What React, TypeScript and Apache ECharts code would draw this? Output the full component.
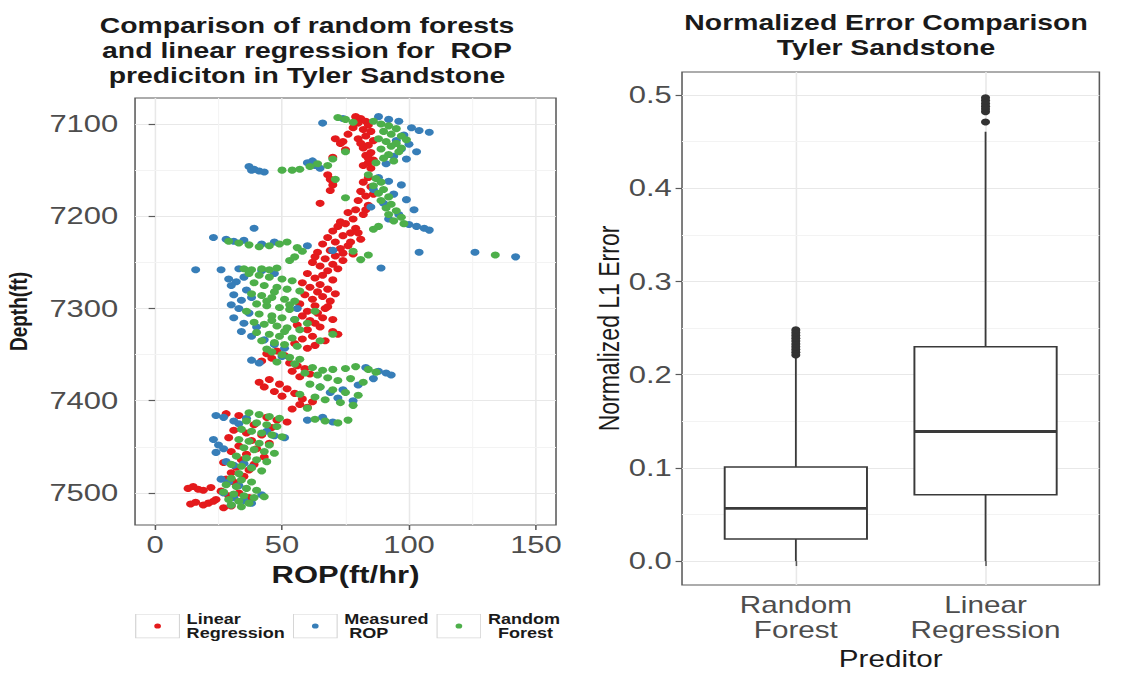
import React, { useEffect, useRef } from "react";
import * as echarts from "echarts";

// ---------- data ----------
// Left panel: [ROP (ft/hr), Depth (ft)]
const LR_POINTS: [number, number][] = [
  [79,7092],[81,7094],[83,7097],[80,7099],[84,7101],[78,7104],[82,7106],[85,7108],[76,7111],[83,7113],
  [80,7116],[86,7118],[73,7121],[84,7123],[82,7126],[75,7128],[85,7131],[83,7134],[70,7136],[86,7139],
  [84,7142],[82,7145],[85,7148],[71,7116],[74,7119],[81,7121],[84,7137],
  [68,7155],[69,7160],[70,7166],[69,7172],[84,7158],[82,7163],[85,7168],[81,7173],[83,7178],[80,7183],
  [84,7188],[65,7186],[79,7193],[76,7196],[82,7198],[78,7203],[73,7206],[86,7176],[83,7193],
  [75,7208],[72,7211],[79,7213],[70,7216],[77,7218],[74,7221],[68,7223],[81,7225],[71,7228],[66,7230],
  [76,7232],[73,7235],[69,7237],[64,7239],[78,7241],[71,7243],[67,7246],[74,7248],[62,7250],[70,7252],
  [65,7254],[72,7257],[68,7259],[80,7218],[77,7228],[74,7240],[63,7244],
  [60,7262],[66,7264],[63,7267],[70,7269],[58,7272],[65,7274],[61,7277],[68,7279],[64,7282],[59,7285],
  [66,7287],[62,7290],[69,7292],[57,7295],[63,7297],[67,7300],[60,7303],[64,7305],[58,7308],[66,7310],
  [61,7313],[63,7316],[56,7318],[65,7320],[60,7323],[70,7325],[72,7328],[62,7330],[58,7333],[67,7335],
  [55,7338],[63,7340],[60,7343],[71,7284],[68,7298],[70,7312],
  [48,7346],[44,7349],[51,7351],[46,7354],[42,7357],[53,7359],[56,7362],[59,7365],[54,7368],[61,7371],
  [57,7374],[45,7377],[41,7380],[49,7382],[43,7385],[52,7387],[47,7390],[55,7392],[50,7395],[58,7398],
  [62,7401],[57,7404],[60,7407],[54,7409],
  [28,7414],[33,7416],[44,7418],[48,7421],[52,7423],[39,7426],[46,7429],[31,7432],[36,7435],[42,7437],
  [29,7440],[38,7443],[45,7446],[33,7449],[40,7452],[30,7455],[36,7458],[43,7461],[34,7464],[27,7467],
  [39,7469],[32,7472],[37,7475],[30,7478],
  [35,7482],[28,7485],[31,7488],[15,7493],[13,7495],[17,7496],[19,7497],[22,7494],[26,7498],[33,7500],
  [29,7503],[37,7505],[24,7507],[16,7510],[14,7512],[19,7513],[21,7511],[23,7509],[30,7514],[27,7516]
];

const MEASURED_POINTS: [number, number][] = [
  [66,7099],[74,7094],[88,7092],[92,7095],[96,7097],[101,7104],[104,7107],[108,7109],[98,7112],[95,7118],
  [100,7122],[97,7127],[103,7130],[94,7135],[99,7138],[91,7143],
  [37,7146],[39,7149],[41,7151],[43,7152],[38,7150],[60,7142],[63,7145],[65,7148],[62,7140],
  [88,7158],[92,7162],[97,7166],[86,7171],[94,7176],[99,7182],[90,7186],[102,7193],[96,7198],[100,7209],
  [103,7211],[106,7213],[108,7215],[92,7203],[85,7190],
  [23,7223],[28,7225],[31,7227],[35,7226],[39,7213],[42,7230],[47,7228],[126,7239],[142,7244],[104,7239],
  [70,7237],[60,7232],
  [16,7258],[26,7258],[33,7257],[42,7259],[89,7256],[47,7262],
  [29,7268],[32,7271],[35,7266],[30,7275],[36,7280],[31,7285],[34,7291],[38,7288],[30,7296],[33,7300],
  [37,7305],[31,7310],[35,7316],[40,7320],[34,7325],[38,7330],[43,7334],[47,7339],[51,7343],[56,7300],
  [55,7312],
  [38,7356],[41,7359],[50,7352],[83,7364],[88,7368],[91,7370],[93,7372],[86,7376],[80,7383],[74,7388],
  [69,7391],[65,7385],[72,7397],[78,7400],
  [24,7416],[27,7418],[36,7419],[31,7422],[33,7425],[60,7421],[66,7418],[70,7423],[23,7442],[25,7448],
  [27,7452],[24,7456],[47,7438],[51,7440],[44,7433],[28,7466],[31,7470],[35,7468],[38,7472],
  [26,7485],[29,7488],[33,7492],[27,7500],[31,7505],[35,7508],[38,7511],[30,7513],[42,7502]
];

const RF_POINTS: [number, number][] = [
  [72,7093],[75,7095],[78,7098],[86,7097],[89,7100],[92,7102],[95,7105],[90,7108],[93,7111],[97,7113],
  [88,7116],[91,7119],[95,7121],[93,7124],[89,7127],[96,7130],[92,7133],[90,7137],[94,7140],[87,7142],
  [75,7130],[70,7138],[68,7145],[99,7117],[97,7126],
  [50,7150],[54,7150],[57,7149],[61,7146],[64,7143],
  [84,7155],[87,7159],[89,7163],[86,7167],[90,7171],[88,7175],[92,7179],[89,7183],[93,7187],[91,7191],
  [95,7194],[92,7198],[97,7201],[94,7205],[98,7208],[88,7211],[86,7214],[71,7160],[75,7180],
  [29,7227],[33,7229],[37,7231],[41,7233],[45,7232],[49,7230],[52,7228],[56,7234],[58,7238],[134,7242],
  [84,7242],[78,7238],[81,7247],[35,7257],[38,7258],[42,7257],[45,7258],[48,7256],[53,7248],[55,7244],
  [37,7262],[41,7264],[45,7266],[50,7268],[54,7270],[39,7272],[43,7275],[48,7277],[52,7279],[57,7281],
  [38,7284],[42,7286],[46,7288],[51,7290],[55,7292],[40,7295],[44,7297],[49,7299],[53,7301],[36,7303],
  [41,7306],[46,7308],[50,7310],[55,7312],[39,7315],[43,7317],[48,7319],[52,7321],[57,7323],[40,7326],
  [45,7328],[49,7330],[54,7332],[42,7335],[47,7337],[51,7339],[56,7341],[44,7344],[60,7316],[63,7303],
  [65,7335],[70,7328],[47,7282],[44,7292],[53,7296],[46,7313],[51,7325],
  [46,7347],[50,7350],[53,7353],[57,7355],[48,7358],[55,7360],[62,7364],[66,7367],[70,7366],[75,7365],
  [79,7363],[84,7366],[87,7369],[59,7370],[64,7372],[68,7375],[72,7378],[77,7376],[82,7380],[61,7382],
  [65,7385],[70,7388],[75,7391],[80,7394],[63,7396],[67,7399],[73,7402],[78,7405],[57,7393],[60,7408],
  [37,7413],[41,7415],[45,7417],[49,7419],[36,7422],[40,7424],[44,7426],[48,7428],[63,7420],[67,7422],
  [72,7424],[76,7421],[34,7431],[38,7433],[42,7435],[46,7437],[50,7439],[33,7442],[37,7444],[41,7446],
  [45,7448],[35,7451],[39,7453],[43,7455],[47,7457],[32,7460],[36,7462],[40,7464],[44,7466],[30,7469],
  [34,7471],[38,7473],[42,7476],[33,7479],
  [30,7484],[34,7486],[38,7488],[28,7491],[32,7493],[36,7495],[40,7497],[27,7499],[31,7501],[35,7503],
  [39,7505],[43,7504],[29,7507],[33,7509],[37,7511],[30,7513],[34,7515]
];

const SERIES_NAMES = ["Linear Regression", "Measured ROP", "Random Forest"];
const LEGEND_LABELS: Record<string, string> = {
  "Linear Regression": "Linear\nRegression",
  "Measured ROP": "Measured\n\u00A0ROP",
  "Random Forest": "Random\n\u00A0\u00A0Forest",
};

const ROP_TICKS = [0, 50, 100, 150];
const ROP_MINOR = [25, 75, 125];
const DEPTH_TICKS = [7100, 7200, 7300, 7400, 7500];
const DEPTH_MINOR = [7150, 7250, 7350, 7450];

// Right panel: box statistics [lowerWhisker, Q1, median, Q3, upperWhisker]
const PREDICTORS = ["Random\nForest", "Linear\nRegression"];
const PREDICTOR_POS = [1, 2];
const RF_STATS = [0.0, 0.0236, 0.0565, 0.101, 0.218];
const LR_STATS = [0.0, 0.0712, 0.139, 0.23, 0.4606];
const RF_OUTLIERS = [0.221, 0.224, 0.227, 0.23, 0.233, 0.236, 0.239, 0.242, 0.245, 0.248];
const LR_OUTLIERS = [0.471, 0.482, 0.485, 0.488, 0.491, 0.494, 0.497];
const ERROR_TICKS = [0, 0.1, 0.2, 0.3, 0.4, 0.5];
const ERROR_MINOR = [0.05, 0.15, 0.25, 0.35, 0.45];

// ---------- styling ----------
const PAGE_W = 1144;
const PAGE_H = 673;
const CHART_W = 887;
const SCALE_X = PAGE_W / CHART_W;
const FONT = "'Liberation Sans', Arial, Helvetica, sans-serif";
const COLORS = ["#E41A1C", "#377EB8", "#4DAF4A"];
const TICK_COLOR = "#4D4D4D";
const BORDER = "#5a5a5a";
const MAJOR_GRID = "#E8E8E8";
const MINOR_GRID = "#F3F3F3";
const BOX_WIDTH = 0.75;
const DOT = 7;

function keyIcon(color: string): string {
  const svg =
    `<svg xmlns='http://www.w3.org/2000/svg' width='35' height='25' viewBox='0 0 35 25'>` +
    `<rect x='0.5' y='0.5' width='34' height='24' fill='#ffffff' stroke='#d6d6d6' stroke-width='1'/>` +
    `<circle cx='17.5' cy='12.5' r='2.6' fill='${color}'/></svg>`;
  return "image://data:image/svg+xml;charset=utf-8," + encodeURIComponent(svg);
}

function buildOption(): any {
  const axisTickStyle = { show: true, length: 5, lineStyle: { color: BORDER, width: 1.2 } };
  const minorLine = (data: any[]) => ({
    silent: true,
    z: 1,
    symbol: ["none", "none"],
    label: { show: false },
    emphasis: { disabled: true },
    lineStyle: { color: MINOR_GRID, width: 0.8, type: "solid" },
    data,
    animation: false,
  });

  const boxData = [
    [PREDICTOR_POS[0], ...RF_STATS],
    [PREDICTOR_POS[1], ...LR_STATS],
  ];
  const outlierData = [
    ...RF_OUTLIERS.map((v) => [PREDICTOR_POS[0], v]),
    ...LR_OUTLIERS.map((v) => [PREDICTOR_POS[1], v]),
  ];

  return {
    animation: false,
    backgroundColor: "#ffffff",
    textStyle: { fontFamily: FONT },
    title: [
      {
        text: "Comparison of random forests\nand linear regression for  ROP\nprediciton in Tyler Sandstone",
        left: 238,
        top: 13,
        padding: 0,
        textAlign: "center",
        textStyle: { fontFamily: FONT, fontWeight: "bold", fontSize: 22, lineHeight: 25, color: "#1a1a1a" },
      },
      {
        text: "Normalized Error Comparison\nTyler Sandstone",
        left: 687,
        top: 10,
        padding: 0,
        textAlign: "center",
        textStyle: { fontFamily: FONT, fontWeight: "bold", fontSize: 22, lineHeight: 25, color: "#1a1a1a" },
      },
    ],
    legend: {
      show: true,
      orient: "horizontal",
      left: 104.7,
      top: 612,
      padding: 0,
      itemWidth: 35,
      itemHeight: 25,
      itemGap: 6,
      selectedMode: false,
      data: SERIES_NAMES.map((n, i) => ({ name: n, icon: keyIcon(COLORS[i]) })),
      formatter: (name: string) => LEGEND_LABELS[name] || name,
      textStyle: { fontFamily: FONT, fontWeight: "bold", fontSize: 14, lineHeight: 14, color: "#1a1a1a" },
    },
    grid: [
      {
        left: 104.7, top: 98, width: 326.4, height: 427,
        show: true, borderColor: BORDER, borderWidth: 1.2, backgroundColor: "transparent",
        containLabel: false, outerBoundsMode: "none",
      },
      {
        left: 528.8, top: 72, width: 323.6, height: 513,
        show: true, borderColor: BORDER, borderWidth: 1.2, backgroundColor: "transparent",
        containLabel: false, outerBoundsMode: "none",
      },
    ],
    xAxis: [
      {
        type: "value", gridIndex: 0, min: -7.9, max: 157.9,
        name: "ROP(ft/hr)", nameLocation: "middle", nameGap: 38,
        nameTextStyle: { fontFamily: FONT, fontWeight: "bold", fontSize: 24, color: "#1a1a1a" },
        axisLine: { show: false },
        axisTick: { ...axisTickStyle, customValues: ROP_TICKS },
        axisLabel: {
          customValues: ROP_TICKS, margin: 8, fontSize: 24, color: TICK_COLOR, fontFamily: FONT,
          formatter: (v: number) => String(v),
        },
        splitLine: { show: true, lineStyle: { color: MAJOR_GRID, width: 1.2 } },
      },
      {
        type: "value", gridIndex: 1, min: 0.4, max: 2.6,
        name: "Preditor", nameLocation: "middle", nameGap: 60,
        nameTextStyle: { fontFamily: FONT, fontSize: 23, color: "#1a1a1a" },
        axisLine: { show: false },
        axisTick: { ...axisTickStyle, customValues: PREDICTOR_POS },
        axisLabel: {
          customValues: PREDICTOR_POS, margin: 8, fontSize: 23, lineHeight: 25, color: TICK_COLOR, fontFamily: FONT,
          formatter: (v: number) => PREDICTORS[Math.round(v) - 1] || "",
        },
        splitLine: { show: true, lineStyle: { color: MAJOR_GRID, width: 1.2 } },
      },
    ],
    yAxis: [
      {
        type: "value", gridIndex: 0, inverse: true, min: 7071.8, max: 7534.7,
        name: "Depth(ft)", nameLocation: "middle", nameGap: 81,
        nameTextStyle: { fontFamily: FONT, fontWeight: "bold", fontSize: 19, color: "#1a1a1a" },
        axisLine: { show: false },
        axisTick: { ...axisTickStyle, customValues: DEPTH_TICKS },
        axisLabel: {
          customValues: DEPTH_TICKS, margin: 13, fontSize: 24, color: TICK_COLOR, fontFamily: FONT,
          formatter: (v: number) => String(v),
        },
        splitLine: { show: true, lineStyle: { color: MAJOR_GRID, width: 1.2 } },
      },
      {
        type: "value", gridIndex: 1, min: -0.0257, max: 0.5247,
        name: "Normalized L1 Error", nameLocation: "middle", nameGap: 42,
        nameTextStyle: { fontFamily: FONT, fontSize: 23, color: "#1a1a1a" },
        axisLine: { show: false },
        axisTick: { ...axisTickStyle, customValues: ERROR_TICKS },
        axisLabel: {
          customValues: ERROR_TICKS, margin: 8, fontSize: 24, color: TICK_COLOR, fontFamily: FONT,
          formatter: (v: number) => v.toFixed(1),
        },
        splitLine: { show: true, lineStyle: { color: MAJOR_GRID, width: 1.2 } },
      },
    ],
    series: [
      {
        name: SERIES_NAMES[0], type: "scatter", xAxisIndex: 0, yAxisIndex: 0,
        data: LR_POINTS, symbolSize: DOT, itemStyle: { color: COLORS[0], opacity: 1 }, z: 2,
        markLine: minorLine([
          ...ROP_MINOR.map((v) => ({ xAxis: v })),
          ...DEPTH_MINOR.map((v) => ({ yAxis: v })),
        ]),
      },
      {
        name: SERIES_NAMES[1], type: "scatter", xAxisIndex: 0, yAxisIndex: 0,
        data: MEASURED_POINTS, symbolSize: DOT, itemStyle: { color: COLORS[1], opacity: 1 }, z: 3,
      },
      {
        name: SERIES_NAMES[2], type: "scatter", xAxisIndex: 0, yAxisIndex: 0,
        data: RF_POINTS, symbolSize: DOT, itemStyle: { color: COLORS[2], opacity: 1 }, z: 4,
      },
      {
        name: "Normalized error", type: "custom", xAxisIndex: 1, yAxisIndex: 1, z: 3,
        data: boxData,
        encode: { x: 0, y: [1, 2, 3, 4, 5] },
        markLine: minorLine(ERROR_MINOR.map((v) => ({ yAxis: v }))),
        renderItem: (params: any, api: any) => {
          const x = api.value(0);
          const lo = api.value(1), q1 = api.value(2), med = api.value(3), q3 = api.value(4), hi = api.value(5);
          const h = BOX_WIDTH / 2;
          const pLo = api.coord([x, lo]);
          const pQ1 = api.coord([x, q1]);
          const pQ3 = api.coord([x, q3]);
          const pHi = api.coord([x, hi]);
          const tl = api.coord([x - h, q3]);
          const br = api.coord([x + h, q1]);
          const mL = api.coord([x - h, med]);
          const mR = api.coord([x + h, med]);
          const stroke = "#3a3a3a";
          return {
            type: "group",
            children: [
              { type: "line", shape: { x1: pLo[0], y1: pLo[1], x2: pQ1[0], y2: pQ1[1] }, style: { stroke, lineWidth: 1.4 } },
              { type: "line", shape: { x1: pQ3[0], y1: pQ3[1], x2: pHi[0], y2: pHi[1] }, style: { stroke, lineWidth: 1.4 } },
              {
                type: "rect",
                shape: { x: tl[0], y: tl[1], width: br[0] - tl[0], height: br[1] - tl[1] },
                style: { fill: "#ffffff", stroke, lineWidth: 1.5 },
              },
              { type: "line", shape: { x1: mL[0], y1: mL[1], x2: mR[0], y2: mR[1] }, style: { stroke, lineWidth: 2.8 } },
            ],
          };
        },
      },
      {
        name: "Outliers", type: "scatter", xAxisIndex: 1, yAxisIndex: 1, z: 4,
        data: outlierData, symbolSize: 7, itemStyle: { color: "#333333", opacity: 1 },
      },
    ],
  };
}

export default function App() {
  const ref = useRef<HTMLDivElement>(null);
  useEffect(() => {
    if (!ref.current) return;
    const chart = echarts.init(ref.current, null, { renderer: "svg" });
    chart.setOption(buildOption());
    return () => {
      chart.dispose();
    };
  }, []);
  return (
    <div
      style={{
        position: "fixed", left: 0, top: 0, width: PAGE_W, height: PAGE_H,
        overflow: "hidden", background: "#ffffff",
      }}
    >
      <div
        ref={ref}
        style={{ width: CHART_W, height: PAGE_H, transform: `scaleX(${SCALE_X})`, transformOrigin: "0 0" }}
      />
    </div>
  );
}
